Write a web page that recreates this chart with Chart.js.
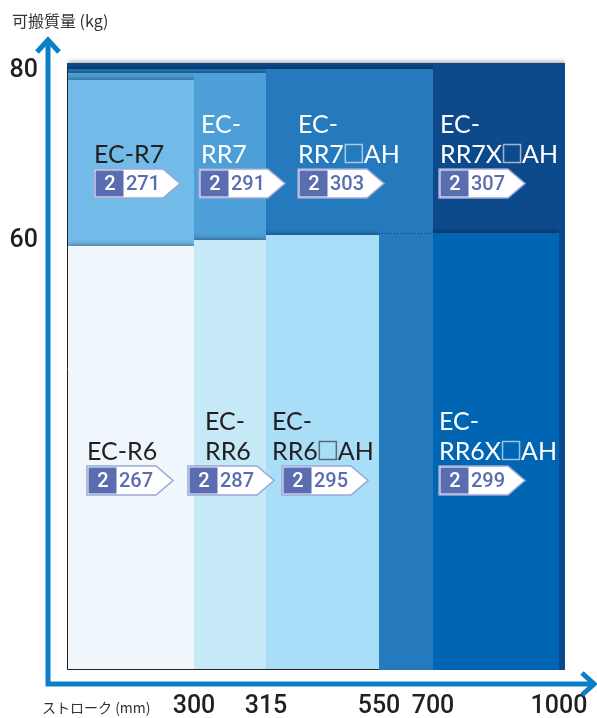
<!DOCTYPE html>
<html lang="ja">
<head>
<meta charset="utf-8">
<title>EC シリーズ 可搬質量 / ストローク</title>
<script src="https://cdn.jsdelivr.net/npm/chart.js@4.4.1/dist/chart.umd.min.js"></script>
<style>
  html, body { margin: 0; padding: 0; background: #fff; }
  #wrap { width: 597px; height: 718px; }
</style>
</head>
<body>
<div id="wrap"><canvas id="chart" width="597" height="718"></canvas></div>
<script>
// Data: model, max stroke (mm), max payload (kg), catalogue page
const models = ['EC-RR7X□AH', 'EC-RR6X□AH', 'EC-RR7□AH', 'EC-RR6□AH', 'EC-RR7', 'EC-RR6', 'EC-R7', 'EC-R6'];
const strokes = [1000, 1000, 700, 550, 315, 315, 300, 300];
const payloads = [80, 60, 80, 60, 80, 60, 80, 60];
const pagePrefix = ['2', '2', '2', '2', '2', '2', '2', '2'];
const pages = [307, 299, 303, 295, 291, 287, 271, 267];
const strokeTicks = [300, 315, 550, 700, 1000];
const payloadTicks = [60, 80];

const yTitle = '可搬質量 (kg)';
const xTitle = 'ストローク (mm)';

// Styles (largest block first = drawn at the back)
const fillColors = ['#0d4a8b', '#0066b3', '#247abd', '#a8def8', '#4c9fd7', '#c6e9f8', '#72bbe8', '#eff7fd'];
const textColors = ['#fff', '#fff', '#fff', '#231f20', '#fff', '#231f20', '#231f20', '#231f20'];
const topInset = [0, 0, 6, 2, 10, 7, 17, 13];   // layered card look
const rightInset = [6, 0, 0, 0, 0, 0, 0, 0];
// label placement: offset from the left edge of the visible block (stroke value "from")
const labelLayout = [
    { from: 700, dx: 7, badgeDx: 6 },
    { from: 700, dx: 6, badgeDx: 6 },
    { from: 315, dx: 32, badgeDx: 32 },
    { from: 315, dx: 6, badgeDx: 16 },
    { from: 300, dx: 7, badgeDx: 5 },
    { from: 300, dx: 11, badgeDx: -6 },
    { from: 0, dx: 27, badgeDx: 27 },
    { from: 0, dx: 20, badgeDx: 20 },
];
const rowBaseline = { 80: 100, 60: 227 }; // px below the tier top

const AXIS_BLUE = '#0a7fc8';
const BADGE_BLUE = '#5a6db1';

// Piecewise linear scale: each interval between breaks gets its own share of the axis
class StepScale extends Chart.LinearScale {
    static id = 'step';
    static defaults = { ticks: { callback: (v) => String(v) } };

    _frac(value) {
        const br = this.options.breaks, wt = this.options.weights;
        const total = wt.reduce((a, b) => a + b, 0);
        let acc = 0;
        for (let i = 0; i < wt.length; i++) {
            if (value <= br[i + 1] || i === wt.length - 1) {
                const t = (value - br[i]) / (br[i + 1] - br[i]);
                return (acc + t * wt[i]) / total;
            }
            acc += wt[i];
        }
        return 1;
    }
    _usable() {
        return (this._length - (this.options.endPad || 0)) / this._length;
    }
    getPixelForValue(value) {
        if (value === null || isNaN(value)) return NaN;
        return this.getPixelForDecimal(this._frac(value) * this._usable());
    }
    getValueForPixel(pixel) {
        const f = this.getDecimalForPixel(pixel) / this._usable();
        const br = this.options.breaks, wt = this.options.weights;
        const total = wt.reduce((a, b) => a + b, 0);
        let acc = 0;
        for (let i = 0; i < wt.length; i++) {
            const next = acc + wt[i] / total;
            if (f <= next || i === wt.length - 1) {
                return br[i] + (f - acc) / (wt[i] / total) * (br[i + 1] - br[i]);
            }
            acc = next;
        }
        return br[br.length - 1];
    }
}
Chart.register(StepScale);

const drawName = (ctx, name, x, baseline, color) => {
    const lines = name.length > 5 ? ['EC-', name.slice(3)] : [name];
    ctx.font = '25px Lato, "Noto Sans", sans-serif';
    ctx.textAlign = 'left';
    ctx.textBaseline = 'alphabetic';
    ctx.fillStyle = color;
    ctx.strokeStyle = color;
    lines.forEach((line, k) => {
        const y = baseline - (lines.length - 1 - k) * 30;
        const parts = line.split('□');
        let cx = x;
        parts.forEach((part, p) => {
            ctx.fillText(part, cx, y);
            cx += ctx.measureText(part).width;
            if (p < parts.length - 1) {
                ctx.save();
                ctx.globalAlpha = 0.6;
                ctx.lineWidth = 1.5;
                ctx.strokeRect(cx + 1.5, y - 18.5, 17, 18);
                ctx.restore();
                cx += 20;
            }
        });
    });
};

const drawBadge = (ctx, x, y, prefix, page) => {
    const h = 29, left = 28, body = 69, tip = 86;
    ctx.beginPath();
    ctx.moveTo(x, y);
    ctx.lineTo(x + body, y);
    ctx.lineTo(x + tip, y + h / 2);
    ctx.lineTo(x + body, y + h);
    ctx.lineTo(x, y + h);
    ctx.closePath();
    ctx.fillStyle = '#fff';
    ctx.fill();
    ctx.lineWidth = 1.5;
    ctx.strokeStyle = '#9aa6d8';
    ctx.stroke();
    ctx.fillStyle = BADGE_BLUE;
    ctx.fillRect(x + 1.5, y + 1.5, left, h - 3);

    ctx.font = '500 20px Roboto, sans-serif';
    ctx.textAlign = 'center';
    ctx.textBaseline = 'middle';
    ctx.fillStyle = '#fff';
    ctx.fillText(prefix, x + 16, y + h / 2 + 1);
    ctx.fillStyle = BADGE_BLUE;
    ctx.fillText(String(page), x + 49, y + h / 2 + 1);
};

const layersPlugin = {
    id: 'layers',
    afterDatasetsUpdate(chart) {
        chart.data.datasets.forEach((ds, i) => {
            const pts = chart.getDatasetMeta(i).data;
            pts.forEach((p) => { p.y += topInset[i]; });
            pts[pts.length - 1].x += rightInset[i];
        });
    },
    beforeDatasetsDraw(chart) {
        const ctx = chart.ctx;
        ctx.save();
        ctx.shadowColor = 'rgba(0, 0, 0, 0.4)';
        ctx.shadowBlur = 5;
        ctx.shadowOffsetX = 1;
        ctx.shadowOffsetY = -1;
    },
    afterDatasetsDraw(chart) {
        const ctx = chart.ctx;
        ctx.restore();
        const xs = chart.scales.x, ys = chart.scales.y;
        const area = chart.chartArea;

        // hidden top edge of the EC-RR6X block under EC-RR7□AH
        ctx.save();
        ctx.setLineDash([1, 2]);
        ctx.strokeStyle = 'rgba(10, 40, 90, 0.7)';
        ctx.lineWidth = 1;
        ctx.beginPath();
        const yDot = ys.getPixelForValue(60) + topInset[1] + 0.5;
        ctx.moveTo(xs.getPixelForValue(550), yDot);
        ctx.lineTo(xs.getPixelForValue(700), yDot);
        ctx.stroke();
        ctx.restore();

        // thin dark rule on the left and bottom of the light blocks
        ctx.save();
        ctx.strokeStyle = '#222';
        ctx.lineWidth = 1;
        ctx.beginPath();
        ctx.moveTo(area.left + 0.5, ys.getPixelForValue(80) + 4);
        ctx.lineTo(area.left + 0.5, area.bottom - 0.5);
        ctx.lineTo(xs.getPixelForValue(550), area.bottom - 0.5);
        ctx.stroke();
        ctx.restore();

        models.forEach((name, i) => {
            const lay = labelLayout[i];
            const x0 = xs.getPixelForValue(lay.from);
            const baseline = ys.getPixelForValue(payloads[i]) + rowBaseline[payloads[i]];
            drawName(ctx, name, x0 + lay.dx, baseline, textColors[i]);
            drawBadge(ctx, x0 + lay.badgeDx, baseline + 6, pagePrefix[i], pages[i]);
        });
    },
    afterDraw(chart) {
        const ctx = chart.ctx;
        const area = chart.chartArea;
        const ax = area.left - 19;
        const ay = area.bottom + 14;
        ctx.save();
        ctx.strokeStyle = AXIS_BLUE;
        ctx.lineWidth = 5;
        ctx.lineJoin = 'miter';
        ctx.beginPath();
        ctx.moveTo(ax, 40);
        ctx.lineTo(ax, ay);
        ctx.lineTo(594, ay);
        ctx.stroke();
        ctx.beginPath();
        ctx.moveTo(ax - 11, 52);
        ctx.lineTo(ax, 40);
        ctx.lineTo(ax + 11, 52);
        ctx.moveTo(582, ay - 11);
        ctx.lineTo(594, ay);
        ctx.lineTo(582, ay + 11);
        ctx.stroke();

        ctx.fillStyle = '#333';
        ctx.textBaseline = 'middle';
        ctx.textAlign = 'left';
        ctx.font = '16px "Noto Sans CJK JP", sans-serif';
        ctx.fillText(yTitle, 12, 21);
        ctx.font = '14px "Noto Sans CJK JP", sans-serif';
        ctx.fillText(xTitle, 42, 708);
        ctx.restore();
    }
};

const n = models.length;
const datasets = models.map((name, i) => ({
    label: name,
    data: [{ x: 0, y: payloads[i] }, { x: strokes[i], y: payloads[i] }],
    backgroundColor: fillColors[i],
    borderWidth: 0,
    pointRadius: 0,
    fill: 'origin',
    order: n - i,
}));

const tickFont = { family: 'Roboto, sans-serif', size: 25, weight: '500' };

new Chart(document.getElementById('chart'), {
    type: 'line',
    data: { datasets },
    options: {
        responsive: false,
        animation: false,
        events: [],
        layout: { padding: { top: 56, right: 26, left: 0, bottom: 0 } },
        plugins: { legend: { display: false }, tooltip: { enabled: false } },
        scales: {
            x: {
                type: 'step',
                position: 'bottom',
                min: 0,
                max: 1000,
                breaks: [0, ...strokeTicks],
                weights: [127, 72, 113, 54, 126],
                endPad: 12,
                afterBuildTicks: (scale) => { scale.ticks = strokeTicks.map((v) => ({ value: v })); },
                afterFit: (scale) => {
                    scale.height = 48;
                    scale.paddingLeft = 0;
                    scale.paddingRight = 0;
                },
                grid: { display: false, drawTicks: false },
                border: { display: false },
                ticks: { autoSkip: false, maxRotation: 0, padding: 22, color: '#231f20', font: tickFont },
            },
            y: {
                type: 'step',
                position: 'left',
                min: 0,
                max: 80,
                breaks: [0, ...payloadTicks],
                weights: [437, 170],
                endPad: 7,
                afterBuildTicks: (scale) => { scale.ticks = payloadTicks.map((v) => ({ value: v })); },
                afterFit: (scale) => {
                    scale.width = 67;
                    scale.paddingTop = 0;
                    scale.paddingBottom = 0;
                },
                grid: { display: false, drawTicks: false },
                border: { display: false },
                ticks: { autoSkip: false, padding: 29, labelOffset: 8, color: '#231f20', font: tickFont },
            },
        },
    },
    plugins: [layersPlugin],
});
</script>
</body>
</html>
